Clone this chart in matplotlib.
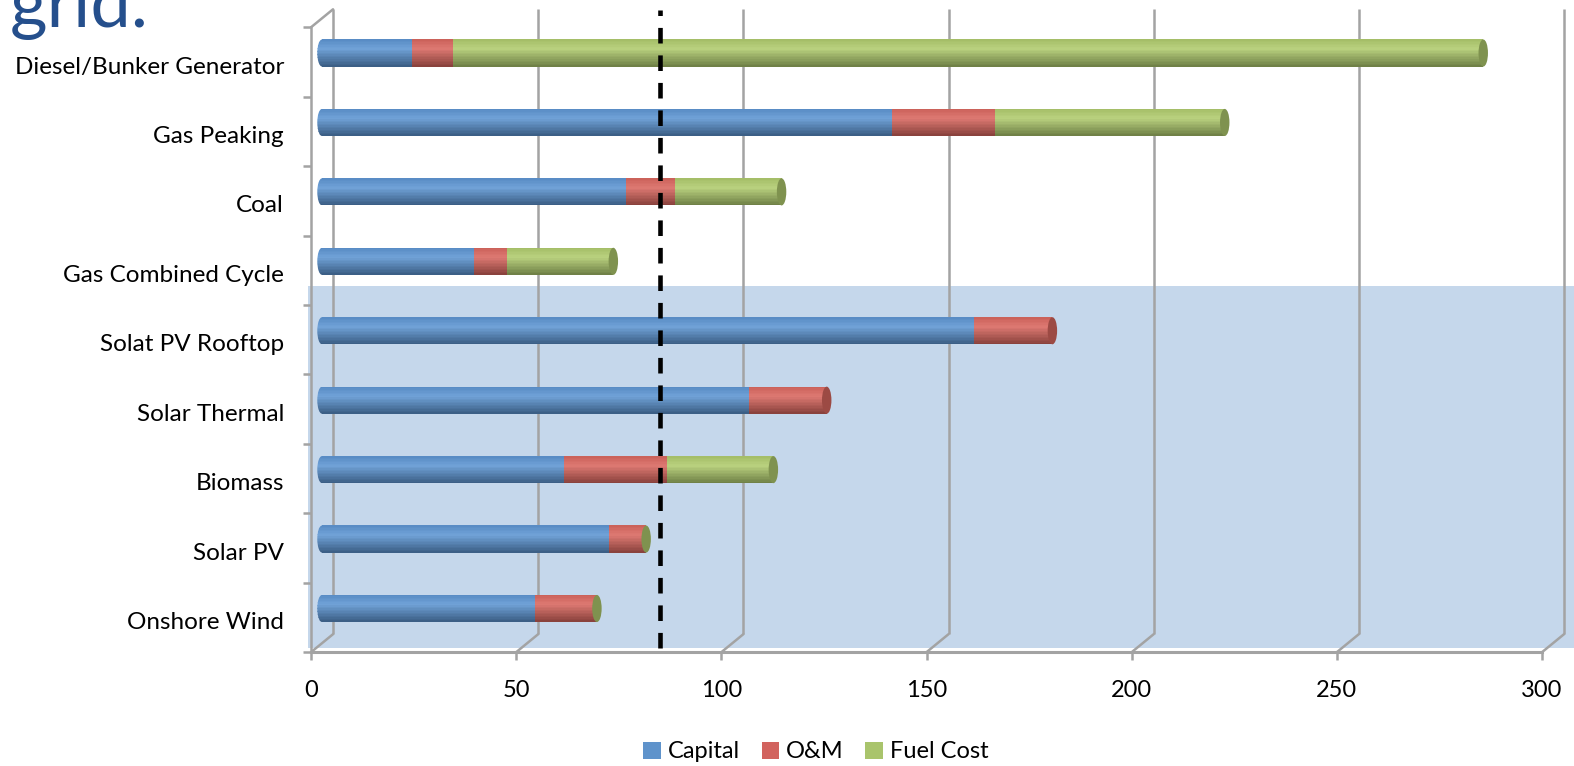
import numpy as np
import matplotlib
matplotlib.use('Agg')
import matplotlib.pyplot as plt
import matplotlib.transforms as mtransforms
from matplotlib.patches import Ellipse, Rectangle, Patch
from matplotlib.colors import to_rgb

plt.rcParams['font.family'] = ['Lato', 'DejaVu Sans']

# data, top to bottom
technologies = ['Diesel/Bunker Generator', 'Gas Peaking', 'Coal', 'Gas Combined Cycle',
                'Solat PV Rooftop', 'Solar Thermal', 'Biomass', 'Solar PV', 'Onshore Wind']
capital = [22, 139, 74, 37, 159, 104, 59, 70, 52]
om = [10, 25, 12, 8, 19, 19, 25, 9, 15]
fuel = [251, 56, 26, 26, np.nan, np.nan, 26, 0, 0]
series_names = ['Capital', 'O&M', 'Fuel Cost']
x_ticks = [0, 50, 100, 150, 200, 250, 300]
reference_line = 82.3
title_text = 'grid.'

colors = ['#5d95d2', '#d9675f', '#b0cb6e']
legend_colors = ['#5f93cb', '#d2635e', '#a9c46c']
grid_gray = '#a3a3a3'

W, H = 1574, 766
fig = plt.figure(figsize=(W / 100, H / 100), dpi=100)
ax = fig.add_axes([322 / W, 1 - 643.2 / H, 1231 / W, 624.9 / H])
ax.set_zorder(1)
ax.patch.set_visible(False)
for sp in ax.spines.values():
    sp.set_visible(False)
ax.set_xticks([])
ax.set_yticks([])
ax.set_xlim(0, 300)
ax.set_ylim(len(technologies) - 0.5, -0.5)

# shaded box behind the renewables
fig.patches.append(Rectangle((308 / W, 1 - 648 / H), 1, 362 / H, transform=fig.transFigure,
                             facecolor='#c5d7eb', edgecolor='none', zorder=-1))

# depth planes
front = mtransforms.offset_copy(ax.transData, fig=fig, x=-11, y=-9, units='dots')
back = mtransforms.offset_copy(ax.transData, fig=fig, x=11, y=9, units='dots')
y_top, y_bot = -0.5, len(technologies) - 0.5

# back wall grid lines + floor slants
for v in x_ticks:
    ax.plot([v, v], [y_top, y_bot], color=grid_gray, lw=1.8, transform=back, zorder=1,
            clip_on=False, solid_capstyle='butt')
    ax.annotate('', xy=(v, y_bot), xycoords=front, xytext=(v, y_bot), textcoords=back,
                arrowprops=dict(arrowstyle='-', color=grid_gray, lw=1.8, shrinkA=0, shrinkB=0),
                zorder=1, annotation_clip=False)
# left wall
ax.plot([0, 0], [y_top, y_bot], color=grid_gray, lw=1.8, transform=front, zorder=2, clip_on=False)
ax.annotate('', xy=(0, y_top), xycoords=front, xytext=(0, y_top), textcoords=back,
            arrowprops=dict(arrowstyle='-', color=grid_gray, lw=1.8, shrinkA=0, shrinkB=0),
            zorder=1, annotation_clip=False)
# front floor edge
ax.plot([0, 300], [y_bot, y_bot], color=grid_gray, lw=2.2, transform=front, zorder=2, clip_on=False)
ax.plot(x_ticks, [y_bot] * len(x_ticks), ls='none', marker=3, ms=6, mew=1.8,
        color=grid_gray, transform=front, zorder=2, clip_on=False)
ax.plot([0] * (len(technologies) + 1), np.arange(len(technologies) + 1) - 0.5, ls='none',
        marker=0, ms=6, mew=1.8, color=grid_gray, transform=front, zorder=2, clip_on=False)


def shade(color, t):
    c = np.array(to_rgb(color))
    light = c + (1 - c) * 0.12
    top = c * 0.93
    bottom = c * 0.62
    if t < 0.35:
        return tuple(top + (light - top) * t / 0.35)
    return tuple(light + (bottom - light) * (t - 0.35) / 0.65)


# cylinders
ypos = np.arange(len(technologies))
bar_h = 0.39
cap_w = 2.3
n_strips = 18
strip_h = bar_h / n_strips
values = [np.array(capital, float), np.array(om, float), np.array(fuel, float)]
lefts = [np.zeros(len(ypos)), values[0], values[0] + values[1]]
for s in range(3):
    for j in range(n_strips):
        t = (j + 0.5) / n_strips
        ax.barh(ypos - bar_h / 2 + (j + 0.5) * strip_h, np.nan_to_num(values[s]), left=lefts[s],
                height=strip_h * 1.05, color=shade(colors[s], t), linewidth=0, zorder=3)

for i in range(len(ypos)):
    # rounded left end
    ell = Ellipse((0, ypos[i]), cap_w, bar_h, transform=ax.transData)
    for j in range(n_strips):
        t = (j + 0.5) / n_strips
        bars = ax.barh(ypos[i] - bar_h / 2 + (j + 0.5) * strip_h, cap_w / 2, left=-cap_w / 2,
                       height=strip_h * 1.05, color=shade(colors[0], t), linewidth=0, zorder=3)
        for b in bars:
            b.set_clip_box(None)
            b.set_clip_path(ell)
    # end face
    last = max(s for s in range(3) if not np.isnan(values[s][i]))
    total = np.nansum([values[s][i] for s in range(3)])
    face = np.array(to_rgb(colors[last])) * 0.72
    ax.add_patch(Ellipse((total, ypos[i]), cap_w, bar_h, facecolor=face, edgecolor='none',
                         zorder=4, clip_on=False))

# reference dashed line
ax.axvline(reference_line, ymin=-0.007, ymax=1.013, color='black', lw=3.3,
           dashes=(3.4, 2.6), zorder=5, clip_on=False)

# labels
lab_tr = mtransforms.offset_copy(ax.transData, fig=fig, x=-11 - 27, y=-14, units='dots')
for i, name in enumerate(technologies):
    ax.text(0, ypos[i], name, transform=lab_tr, ha='right', va='center', fontsize=17.5,
            color='black')
tick_tr = mtransforms.offset_copy(ax.transData, fig=fig, x=-11, y=-47, units='dots')
for v in x_ticks:
    ax.text(v, y_bot, str(v), transform=tick_tr, ha='center', va='center', fontsize=17,
            color='black')

fig.text(10 / W, 1 - 27 / H, title_text, fontsize=52, color='#254f8c', ha='left',
         va='baseline')

handles = [Patch(facecolor=c, edgecolor='none') for c in legend_colors]
fig.legend(handles, series_names, loc='center', bbox_to_anchor=(816 / W, 1 - 752 / H),
           ncol=3, frameon=False, fontsize=17, handlelength=0.75, handleheight=0.75,
           handletextpad=0.3, columnspacing=0.9)

fig.savefig('out.png', dpi=100)
